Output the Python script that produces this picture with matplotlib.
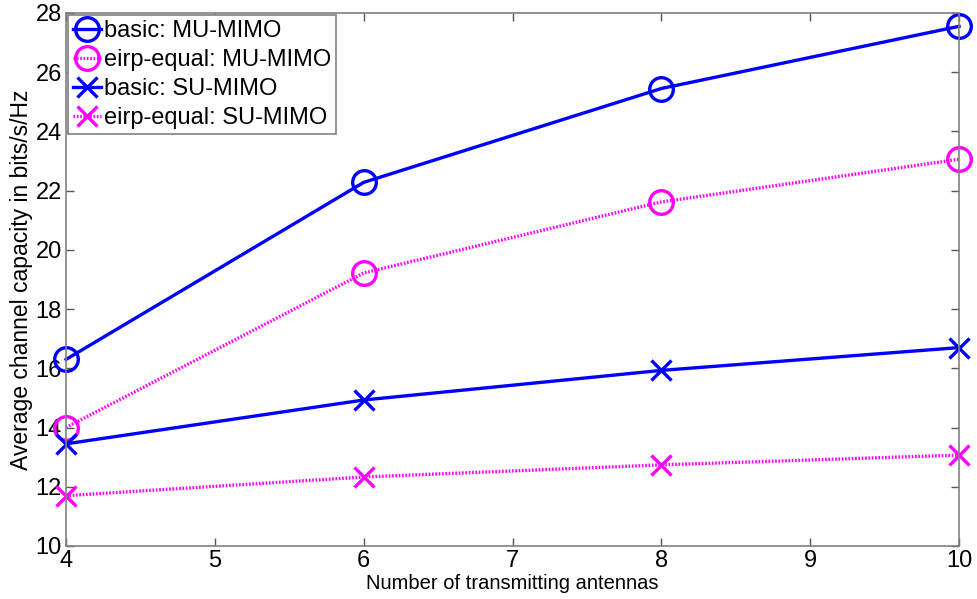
import matplotlib
matplotlib.use("Agg")
import matplotlib.pyplot as plt

antennas = [4, 6, 8, 10]
basic_mu = [16.3, 22.28, 25.45, 27.55]
eirp_mu = [14.0, 19.22, 21.62, 23.06]
basic_su = [13.45, 14.93, 15.93, 16.7]
eirp_su = [11.7, 12.33, 12.74, 13.07]

labels = ["basic: MU-MIMO", "eirp-equal: MU-MIMO", "basic: SU-MIMO", "eirp-equal: SU-MIMO"]
xticks = [4, 5, 6, 7, 8, 9, 10]
yticks = [10, 12, 14, 16, 18, 20, 22, 24, 26, 28]

plt.rcParams["font.family"] = ["Liberation Sans", "DejaVu Sans"]

fig = plt.figure(figsize=(9.78, 5.99), dpi=100)
ax = fig.add_axes([0.0675, 0.0885, 0.9131, 0.8898])

blue, magenta = "#0000ff", "#ff00ff"
lw = 2.4
dot = (0, (0.5, 0.5))
common = dict(lw=lw, mew=2.4, clip_on=False)
ax.plot(antennas, basic_mu, color=blue, marker="o", ms=17, mfc="none", label=labels[0], **common)
ax.plot(antennas, eirp_mu, color=magenta, ls=dot, marker="o", ms=17, mfc="none", label=labels[1], **common)
ax.plot(antennas, basic_su, color=blue, marker="x", ms=15, label=labels[2], **common)
ax.plot(antennas, eirp_su, color=magenta, ls=dot, marker="x", ms=15, label=labels[3], **common)

ax.set_xlim(4, 10)
ax.set_ylim(10, 28)
ax.set_xticks(xticks)
ax.set_yticks(yticks)
ax.tick_params(direction="in", length=6, width=1, color="#555555", labelsize=17,
               top=True, right=True, pad=3)
for sp in ax.spines.values():
    sp.set_color("#808080")
    sp.set_linewidth(1.2)

ax.set_xlabel("Number of transmitting antennas", fontsize=14.5, labelpad=1)
ax.set_ylabel("Average channel capacity in bits/s/Hz", fontsize=16.5, labelpad=2)

leg = ax.legend(loc="upper left", fontsize=17, handlelength=1.2, handletextpad=0.1,
                borderpad=0.2, labelspacing=0.3, borderaxespad=0.1, fancybox=False,
                framealpha=1)
leg.get_frame().set_edgecolor("#808080")
leg.get_frame().set_linewidth(1.2)

fig.savefig("out.png", dpi=100)
